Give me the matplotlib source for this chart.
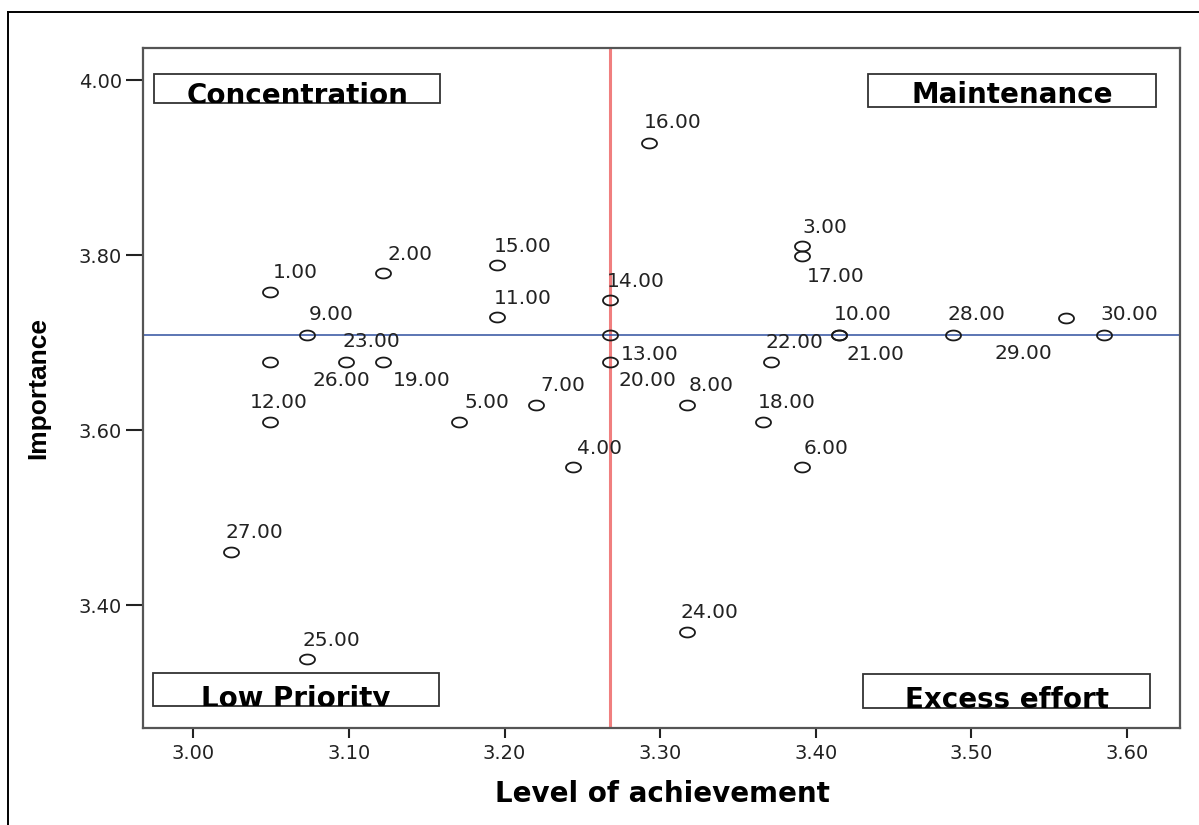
import numpy as np
import matplotlib
matplotlib.use("Agg")
import matplotlib.pyplot as plt
from matplotlib.path import Path
from matplotlib.patches import Rectangle
from matplotlib.lines import Line2D
from matplotlib.transforms import Bbox, TransformedBbox

# values
cases = [str(i) + ".00" for i in range(1, 31)]
achievement = [3.049, 3.122, 3.391, 3.244, 3.171, 3.391, 3.220, 3.317, 3.073, 3.415,
               3.195, 3.049, 3.268, 3.268, 3.195, 3.293, 3.391, 3.366, 3.122, 3.268,
               3.415, 3.371, 3.098, 3.317, 3.073, 3.049, 3.024, 3.488, 3.561, 3.585]
importance = [3.758, 3.779, 3.810, 3.558, 3.609, 3.558, 3.629, 3.629, 3.709, 3.709,
              3.729, 3.609, 3.709, 3.749, 3.789, 3.928, 3.799, 3.609, 3.678, 3.678,
              3.709, 3.678, 3.678, 3.369, 3.339, 3.678, 3.461, 3.709, 3.728, 3.709]
mean_achievement = 3.268
mean_importance = 3.709
x_ticks = [3.00, 3.10, 3.20, 3.30, 3.40, 3.50, 3.60]
y_ticks = [3.40, 3.60, 3.80, 4.00]
quadrants = ["Concentration", "Maintenance", "Low Priority", "Excess effort"]

# label placement (pixels from the point), like SPSS put them
label_offsets = [(3, 14), (4, 13), (1, 13), (4, 13), (5, 14), (2, 13), (5, 14), (2, 14),
                 (2, 15), (-5, 15), (-3, 13), (-20, 14), (10, -25), (-4, 13), (-3, 13),
                 (-5, 15), (5, -26), (-5, 14), (10, -24), (8, -24), (7, -25), (-5, 14),
                 (-3, 15), (-6, 14), (-4, 13), (43, -24), (-5, 14), (-5, 15), (-72, -41),
                 (-3, 15)]

W, H = 1199, 825


def fx(px):
    return px / W


def fy(py):
    return 1 - py / H


fig = plt.figure(figsize=(W / 100, H / 100), dpi=100)
fig.patch.set_facecolor("white")
ax = fig.add_axes([fx(142.7), fy(727.7), fx(1180) - fx(142.7), fy(47.7) - fy(727.7)])

# flattened open circle, as in the original
t = np.linspace(0, 2 * np.pi, 60)
ellipse = Path(np.column_stack([np.cos(t), 0.66 * np.sin(t)]), closed=True)

ax.axvline(mean_achievement, color="#f07f7f", lw=2.2, zorder=1)
ax.axhline(mean_importance, color="#2f4f9f", lw=1.1, zorder=1)
ax.plot(achievement, importance, ls="none", marker=ellipse, markersize=10.8,
        markerfacecolor="none", markeredgecolor="#1a1a1a", markeredgewidth=1.3, zorder=3)

for lab, x, y, off in zip(cases, achievement, importance, label_offsets):
    ax.annotate(lab, (x, y), xytext=off, textcoords="offset pixels",
                ha="left", va="baseline", fontsize=14.5, color="#222222",
                family="DejaVu Sans", zorder=4)

ax.set_xlim(2.9675, 3.634)
ax.set_ylim(3.260, 4.037)
ax.set_xticks(x_ticks)
ax.set_xticklabels([f"{v:.2f}" for v in x_ticks])
ax.set_yticks(y_ticks)
ax.set_yticklabels([f"{v:.2f}" for v in y_ticks])
ax.tick_params(axis="x", direction="out", length=7.5, width=1.5, pad=4,
               labelsize=14, colors="#222222")
ax.tick_params(axis="y", direction="out", length=12, width=1.5, pad=3,
               labelsize=14, colors="#222222")
for s in ax.spines.values():
    s.set_color("#555555")
    s.set_linewidth(1.6)

# quadrant boxes: (left, top, right, bottom, text centre, baseline) in pixels
boxes = [(153.8, 74.0, 440.0, 103.3, 297.6, 104.5),
         (867.9, 74.0, 1155.7, 107.3, 1012.3, 103.0),
         (153.0, 672.7, 439.3, 706.0, 296.0, 707.0),
         (863.0, 674.3, 1150.3, 707.7, 1006.8, 708.5)]
for name, (l, tp, r, b, cx, base) in zip(quadrants, boxes):
    rect = Rectangle((fx(l), fy(b)), fx(r) - fx(l), fy(tp) - fy(b),
                     transform=fig.transFigure, facecolor="white",
                     edgecolor="#333333", lw=1.3, zorder=5)
    fig.add_artist(rect)
    txt = fig.text(fx(cx), fy(base), name, ha="center", va="baseline",
                   fontsize=20, fontweight="bold", family="DejaVu Sans",
                   color="black", zorder=6)
    txt.set_clip_on(True)
    txt.set_clip_box(TransformedBbox(Bbox([[fx(l), fy(b)], [fx(r), fy(tp)]]),
                                     fig.transFigure))

fig.text(fx(662), fy(801.7), "Level of achievement", ha="center", va="baseline",
         fontsize=20, fontweight="bold", family="DejaVu Sans")
fig.text(fx(38), fy(388), "Importance", ha="center", va="center", rotation=90,
         fontsize=19, fontweight="bold", family="Liberation Sans")

# outer frame of the exported picture (only left and top edges are in view)
fig.add_artist(Line2D([fx(7.7), fx(7.7)], [fy(11.7), 0], transform=fig.transFigure,
                      color="black", lw=1.4))
fig.add_artist(Line2D([fx(7.7), 1], [fy(11.7), fy(11.7)], transform=fig.transFigure,
                      color="black", lw=1.4))

fig.savefig("out.png", dpi=100)
